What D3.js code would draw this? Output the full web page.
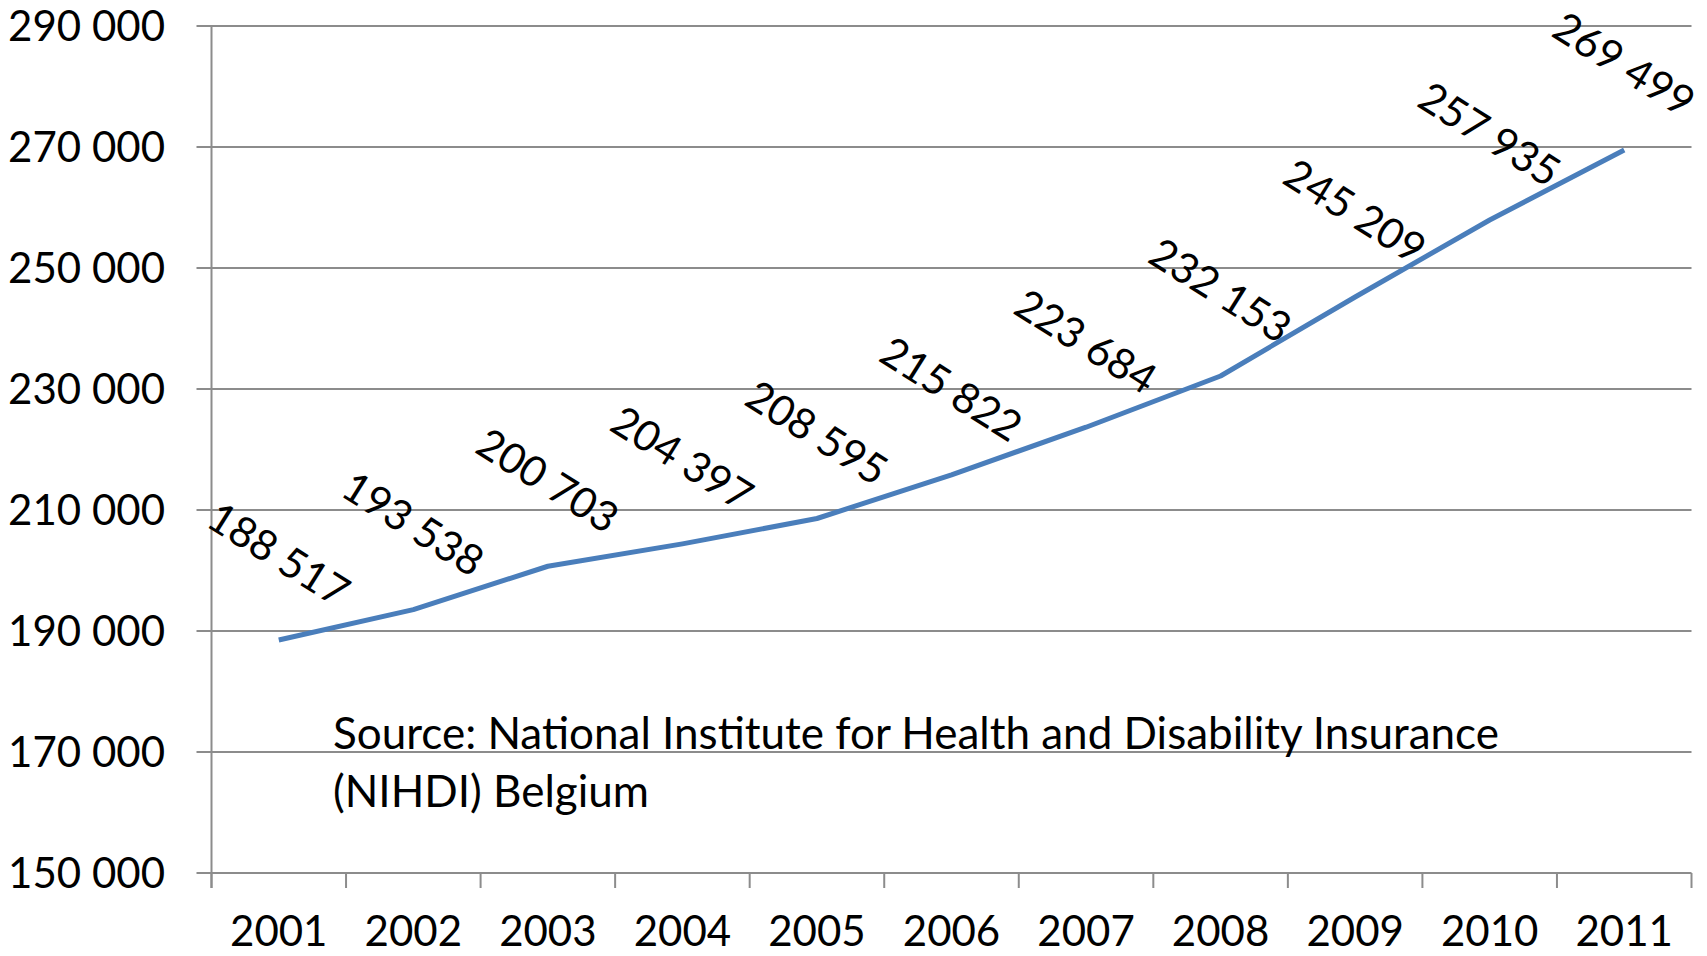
<!DOCTYPE html>
<html lang="en">
  <head>
    <meta charset="UTF-8" />
    <title>NIHDI Belgium series</title>
    <script src="https://d3js.org/d3.v7.min.js"></script>
    <style>
      body { margin: 0; background: #fff; }
      text { font-family: Lato, "Noto Sans", sans-serif; fill: #000; }
    </style>
  </head>
  <body>
    <svg width="1707" height="956"></svg>
    <script>
      const years = ["2001", "2002", "2003", "2004", "2005", "2006", "2007", "2008", "2009", "2010", "2011"];
      const values = [188517, 193538, 200703, 204397, 208595, 215822, 223684, 232153, 245209, 257935, 269499];
      const yTicks = [150000, 170000, 190000, 210000, 230000, 250000, 270000, 290000];
      const sourceLines = ["Source: National Institute for Health and Disability Insurance", "(NIHDI) Belgium"];

      const svg = d3.select("svg");
      const plotLeft = 211.5, plotRight = 1691.5, plotTop = 26, plotBottom = 873;
      const fs = 42;

      const x = d3.scaleBand().domain(years).range([plotLeft, plotRight]);
      const y = d3.scaleLinear().domain([150000, 290000]).range([plotBottom, plotTop]);
      const fmt = v => d3.format(",")(v).replace(/,/g, " ");

      // gridlines + y labels
      svg.append("g")
        .selectAll("line")
        .data(yTicks)
        .enter()
        .append("line")
        .attr("x1", plotLeft - 15)
        .attr("x2", plotRight)
        .attr("y1", d => y(d))
        .attr("y2", d => y(d))
        .attr("stroke", "#8c8c8c")
        .attr("stroke-width", 2);

      svg.append("g")
        .selectAll("text")
        .data(yTicks)
        .enter()
        .append("text")
        .attr("x", 165)
        .attr("y", d => y(d))
        .attr("dy", "0.36em")
        .attr("text-anchor", "end")
        .style("font-size", fs + "px")
        .text(fmt);

      // axis lines
      svg.append("line")
        .attr("x1", plotLeft).attr("x2", plotLeft)
        .attr("y1", plotTop).attr("y2", plotBottom + 15)
        .attr("stroke", "#8c8c8c").attr("stroke-width", 2);

      const xTickPos = years.map(d => x(d)).concat([plotRight]);
      svg.append("g")
        .selectAll("line")
        .data(xTickPos)
        .enter()
        .append("line")
        .attr("x1", d => d).attr("x2", d => d)
        .attr("y1", plotBottom).attr("y2", plotBottom + 15)
        .attr("stroke", "#8c8c8c").attr("stroke-width", 2);

      svg.append("g")
        .selectAll("text")
        .data(years)
        .enter()
        .append("text")
        .attr("x", d => x(d) + x.bandwidth() / 2)
        .attr("y", 946)
        .attr("text-anchor", "middle")
        .style("font-size", fs + "px")
        .text(d => d);

      // source note
      svg.append("g")
        .selectAll("text")
        .data(sourceLines)
        .enter()
        .append("text")
        .attr("x", 333)
        .attr("y", (d, i) => 749 + i * 58)
        .style("font-size", "44px")
        .text(d => d);

      // line
      const line = d3.line()
        .x((d, i) => x(years[i]) + x.bandwidth() / 2)
        .y(d => y(d));

      svg.append("path")
        .datum(values)
        .attr("d", line)
        .attr("fill", "none")
        .attr("stroke", "#4a7ebb")
        .attr("stroke-width", 5)
        .attr("stroke-linejoin", "round");

      // rotated data labels
      svg.append("g")
        .selectAll("text")
        .data(values)
        .enter()
        .append("text")
        .attr("transform", (d, i) => {
          const cx = x(years[i]) + x.bandwidth() / 2;
          const cy = y(d) - 86;
          return `translate(${cx},${cy}) rotate(32)`;
        })
        .attr("text-anchor", "middle")
        .attr("dy", "0.36em")
        .style("font-size", fs + "px")
        .text(fmt);
    </script>
  </body>
</html>
